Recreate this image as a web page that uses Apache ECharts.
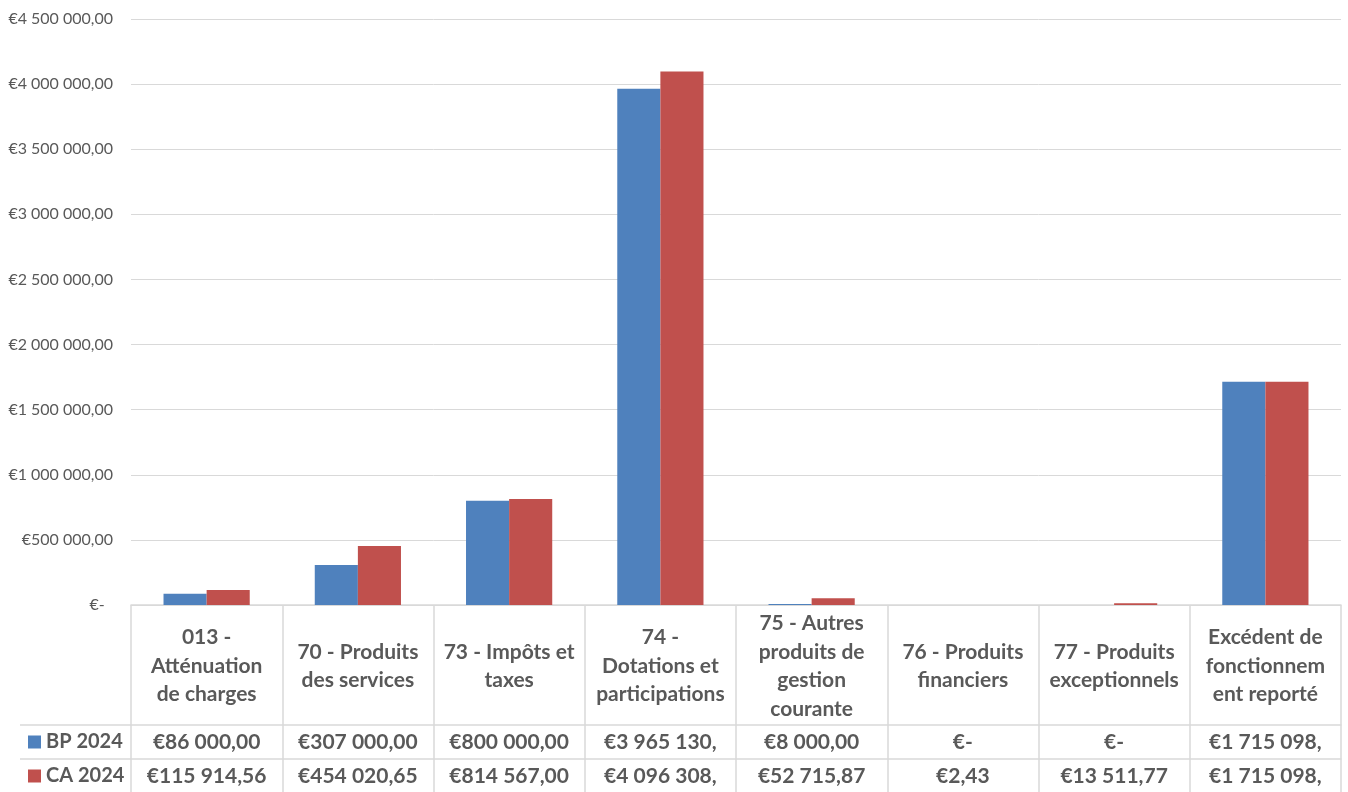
<!DOCTYPE html>
<html>
<head>
<meta charset="utf-8">
<script src="https://cdn.jsdelivr.net/npm/echarts@6/dist/echarts.min.js"></script>
<style>
html,body{margin:0;padding:0;background:#fff;}
#chart{width:1348px;height:792px;}
</style>
</head>
<body>
<div id="chart"></div>
<script>
var categories = [
  '013 -\nAtténuation\nde charges',
  '70 - Produits\ndes services',
  '73 - Impôts et\ntaxes',
  '74 -\nDotations et\nparticipations',
  '75 - Autres\nproduits de\ngestion\ncourante',
  '76 - Produits\nfinanciers',
  '77 - Produits\nexceptionnels',
  'Excédent de\nfonctionnem\nent reporté'
];
var seriesNames = ['BP 2024', 'CA 2024'];
var bpValues = [86000, 307000, 800000, 3965130, 8000, 0, 0, 1715098];
var caValues = [115914.56, 454020.65, 814567.00, 4096308, 52715.87, 2.43, 13511.77, 1715098];
var bpLabels = ['€86 000,00', '€307 000,00', '€800 000,00', '€3 965 130,', '€8 000,00', '€-', '€-', '€1 715 098,'];
var caLabels = ['€115 914,56', '€454 020,65', '€814 567,00', '€4 096 308,', '€52 715,87', '€2,43', '€13 511,77', '€1 715 098,'];
var yMax = 4500000;
var yInterval = 500000;

var FONT = 'Lato, "Liberation Sans", sans-serif';
var TXT = '#595959';
var LINE = '#d9d9d9';
var BLUE = '#4F81BD';
var RED = '#C0504D';

function fmtY(v) {
  if (v === 0) return '€-  ';
  return '€' + String(v).replace(/\B(?=(\d{3})+(?!\d))/g, ' ') + ',00';
}

var chart = echarts.init(document.getElementById('chart'), null, {renderer: 'canvas'});
var legendText = {color: TXT, fontFamily: FONT, fontWeight: 'bold', fontSize: 20};
var option = {
  animation: false,
  backgroundColor: '#fff',
  grid: {left: 131, right: 7, top: 19, bottom: 187, containLabel: false},
  legend: [
    {data: [seriesNames[0]], left: 28, top: 732, padding: 0, icon: 'rect', itemWidth: 13, itemHeight: 13,
     textStyle: legendText, selectedMode: false},
    {data: [seriesNames[1]], left: 28, top: 766, padding: 0, icon: 'rect', itemWidth: 13, itemHeight: 13,
     textStyle: legendText, selectedMode: false}
  ],
  xAxis: [
    {
      type: 'category', data: categories, position: 'bottom',
      axisLine: {show: true, lineStyle: {color: LINE, width: 1.5}},
      axisTick: {show: true, length: 190, interval: 0, lineStyle: {color: LINE, width: 1.5}},
      axisLabel: {interval: 0, margin: 61, verticalAlign: 'middle', color: TXT, fontFamily: FONT,
                  fontWeight: 'bold', fontSize: 21, lineHeight: 28.5, align: 'center'},
      splitLine: {show: false}
    },
    {
      type: 'category', data: bpLabels, position: 'bottom', offset: 120,
      axisLine: {show: true, lineStyle: {color: LINE, width: 1.5}},
      axisTick: {show: false},
      axisLabel: {interval: 0, margin: 17, verticalAlign: 'middle', color: TXT, fontFamily: FONT,
                  fontWeight: 'bold', fontSize: 21},
      splitLine: {show: false}
    },
    {
      type: 'category', data: caLabels, position: 'bottom', offset: 154,
      axisLine: {show: true, lineStyle: {color: LINE, width: 1.5}},
      axisTick: {show: false},
      axisLabel: {interval: 0, margin: 17, verticalAlign: 'middle', color: TXT, fontFamily: FONT,
                  fontWeight: 'bold', fontSize: 21},
      splitLine: {show: false}
    }
  ],
  yAxis: {
    type: 'value', min: 0, max: yMax, interval: yInterval,
    axisLine: {show: false}, axisTick: {show: false},
    axisLabel: {formatter: fmtY, color: TXT, fontFamily: FONT, fontSize: 16, margin: 18},
    splitLine: {lineStyle: {color: LINE, width: 1}}
  },
  series: [
    {name: seriesNames[0], type: 'bar', data: bpValues, xAxisIndex: 0, barGap: '0%', barCategoryGap: '43%',
     itemStyle: {color: BLUE}},
    {name: seriesNames[1], type: 'bar', data: caValues, xAxisIndex: 0, barGap: '0%', barCategoryGap: '43%',
     itemStyle: {color: RED}}
  ],
  graphic: [
    {type: 'line', shape: {x1: 20, y1: 725, x2: 131, y2: 725}, style: {stroke: LINE, lineWidth: 1.5}},
    {type: 'line', shape: {x1: 20, y1: 759, x2: 131, y2: 759}, style: {stroke: LINE, lineWidth: 1.5}}
  ]
};
chart.setOption(option);
</script>
</body>
</html>
